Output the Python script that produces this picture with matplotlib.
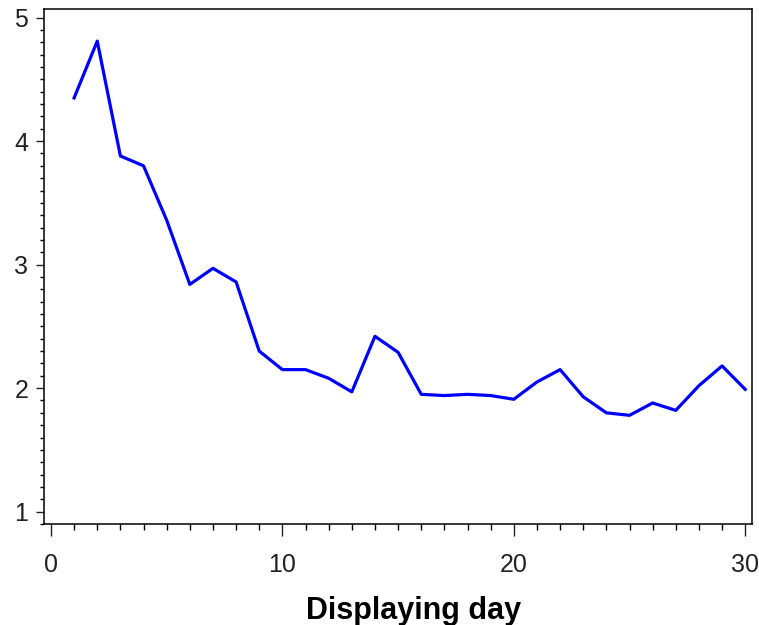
import numpy as np
import matplotlib
matplotlib.use('Agg')
import matplotlib.pyplot as plt
from matplotlib.ticker import MultipleLocator

# values
days = list(range(1, 31))
values = [4.35, 4.81, 3.88, 3.80, 3.36, 2.84, 2.97, 2.86, 2.30, 2.15,
          2.15, 2.08, 1.97, 2.42, 2.29, 1.95, 1.94, 1.95, 1.94, 1.91,
          2.05, 2.15, 1.93, 1.80, 1.78, 1.88, 1.82, 2.02, 2.18, 1.99]
x_ticks = [0, 10, 20, 30]
y_ticks = [1, 2, 3, 4, 5]

plt.rcParams['font.family'] = ['Liberation Sans', 'DejaVu Sans']

fig = plt.figure(figsize=(7.59, 6.25), dpi=100)
ax = fig.add_axes([0.058, 0.1616, 0.933, 0.824])

ax.plot(days, values, color='#0000ff', linewidth=2.3)

ax.set_xlim(-0.3, 30.3)
ax.set_ylim(0.9, 5.07)
ax.set_xticks(x_ticks)
ax.set_yticks(y_ticks)
ax.xaxis.set_minor_locator(MultipleLocator(1))
ax.yaxis.set_minor_locator(MultipleLocator(0.1))

ax.tick_params(axis='both', which='major', labelsize=18, width=1, colors='#222222')
ax.tick_params(axis='x', which='major', length=8.6, pad=12)
ax.tick_params(axis='x', which='minor', length=4.3, width=1)
ax.tick_params(axis='y', which='major', length=5.8, pad=5.5)
ax.tick_params(axis='y', which='minor', length=2.9, width=1)
for s in ax.spines.values():
    s.set_linewidth(1.1)

ax.set_xlabel('Displaying day', fontsize=22, fontweight='bold')
ax.xaxis.set_label_coords(0.522, -0.14)

fig.savefig('out.png', dpi=100)
